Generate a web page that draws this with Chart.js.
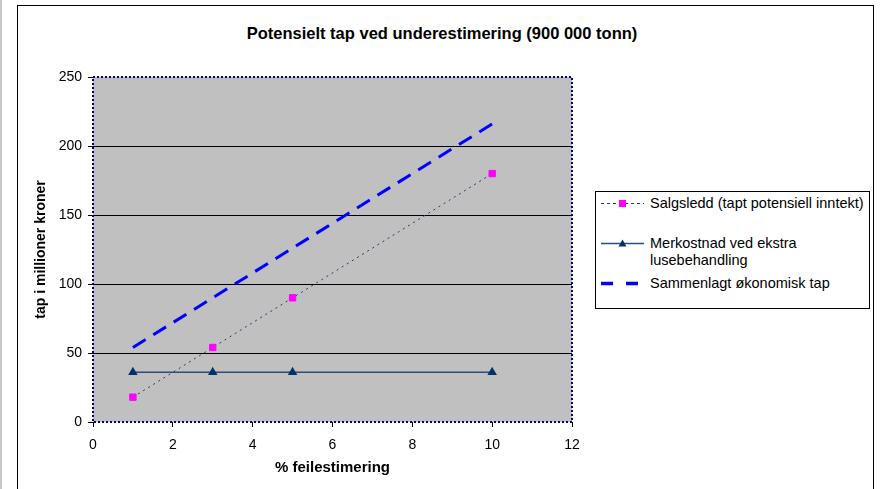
<!DOCTYPE html>
<html>
<head>
<meta charset="utf-8">
<script src="https://cdn.jsdelivr.net/npm/chart.js@4"></script>
<style>
  body { margin: 0; background: #fff; font-family: Arial, "Liberation Sans", sans-serif; }
  #wrap { position: relative; width: 881px; height: 489px; overflow: hidden; }
  #edge { position: absolute; left: 0; top: 0; width: 2px; height: 489px; background: #c8c8c8; }
  #frame { position: absolute; left: 17px; top: 5px; width: 855px; height: 520px; border: 1px solid #000; }
  #title { position: absolute; left: 0; top: 23px; width: 884px; text-align: center; font-weight: bold; font-size: 16.5px; line-height: 20px; color: #000; }
  canvas { position: absolute; left: 0; top: 0; }
  #legend { position: absolute; left: 595px; top: 191px; width: 273px; height: 116px; border: 1px solid #000; background: #fff; font-size: 14.5px; color: #000; }
  .item { position: absolute; left: 0; }
  .item svg { position: absolute; left: 3px; top: 0; }
  .item span { position: absolute; left: 54px; top: 0; white-space: nowrap; line-height: 17px; }
</style>
</head>
<body>
<div id="wrap">
  <div id="edge"></div>
  <div id="frame"></div>
  <div id="title">Potensielt tap ved underestimering (900 000 tonn)</div>
  <canvas id="chart" width="881" height="489"></canvas>
  <div id="legend"></div>
</div>
<script>
// Verdier lest av diagrammet
const feilestimering = [1, 3, 5, 10];
const salgsledd = [18, 54, 90, 180];
const merkostnad = [36, 36, 36, 36];
const sammenlagt = [54, 90, 126, 216];
const xTicks = [0, 2, 4, 6, 8, 10, 12];
const yTicks = [0, 50, 100, 150, 200, 250];

function toPoints(values) {
    return feilestimering.map(function(x, i) { return { x: x, y: values[i] }; });
}

// Grå bakgrunn og stiplet ramme rundt plottområdet
const plotArea = {
    id: 'plotArea',
    beforeDraw: function(chart) {
        const a = chart.chartArea;
        const ctx = chart.ctx;
        ctx.save();
        ctx.fillStyle = '#C0C0C0';
        ctx.fillRect(a.left, a.top, a.right - a.left, a.bottom - a.top);
        ctx.restore();
    },
    afterDraw: function(chart) {
        const a = chart.chartArea;
        const ctx = chart.ctx;
        ctx.save();
        ctx.strokeStyle = '#000080';
        ctx.lineWidth = 2;
        ctx.setLineDash([2, 2]);
        ctx.strokeRect(a.left, a.top, a.right - a.left, a.bottom - a.top);
        ctx.restore();
    }
};

const font = 'Arial, "Liberation Sans", sans-serif';

const ctx = document.getElementById('chart').getContext('2d');
const chart = new Chart(ctx, {
    type: 'line',
    data: {
        datasets: [
            {
                label: 'Sammenlagt økonomisk tap',
                data: toPoints(sammenlagt),
                borderColor: '#0000FF',
                borderWidth: 3,
                borderDash: [15, 9],
                pointRadius: 0,
                fill: false
            },
            {
                label: 'Salgsledd (tapt potensiell inntekt)',
                data: toPoints(salgsledd),
                borderColor: '#1F3F6F',
                borderWidth: 1,
                borderDash: [2, 4],
                pointStyle: 'rect',
                pointRadius: 4.5,
                pointBackgroundColor: '#FF00FF',
                pointBorderColor: '#FF00FF',
                fill: false
            },
            {
                label: 'Merkostnad ved ekstra lusebehandling',
                data: toPoints(merkostnad),
                borderColor: '#2B4C7E',
                borderWidth: 1.5,
                pointStyle: 'triangle',
                pointRadius: 4,
                pointBackgroundColor: '#003366',
                pointBorderColor: '#003366',
                fill: false
            }
        ]
    },
    options: {
        responsive: false,
        animation: false,
        layout: { padding: { left: 0, right: 309, top: 77, bottom: 0 } },
        plugins: {
            legend: { display: false },
            tooltip: { enabled: false },
            title: { display: false }
        },
        scales: {
            x: {
                type: 'linear',
                min: 0,
                max: 12,
                afterBuildTicks: function(scale) { scale.ticks = xTicks.map(function(v) { return { value: v }; }); },
                afterFit: function(scale) { scale.height = 67; },
                border: { display: false },
                grid: { drawOnChartArea: false, tickLength: 5, tickColor: '#000' },
                ticks: { color: '#000', font: { family: font, size: 14 }, padding: 10 },
                title: {
                    display: true,
                    text: '% feilestimering',
                    color: '#000',
                    font: { family: font, size: 15, weight: 'bold' },
                    padding: { top: 4, bottom: 12 }
                }
            },
            y: {
                min: 0,
                max: 250,
                afterBuildTicks: function(scale) { scale.ticks = yTicks.map(function(v) { return { value: v }; }); },
                afterFit: function(scale) { scale.width = 93; },
                border: { display: false },
                grid: {
                    color: function(c) { return (c.tick && c.tick.value > 0 && c.tick.value < 250) ? '#000' : 'rgba(0,0,0,0)'; },
                    tickColor: '#000',
                    tickLength: 5
                },
                ticks: { color: '#000', font: { family: font, size: 14 }, padding: 6 },
                title: {
                    display: true,
                    text: 'tap i millioner kroner',
                    color: '#000',
                    font: { family: font, size: 14, weight: 'bold' },
                    padding: { top: 33, bottom: 0 }
                }
            }
        }
    },
    plugins: [plotArea]
});

// Forklaring (legend) som HTML
const legendItems = [
    { text: 'Salgsledd (tapt potensiell inntekt)', top: 3, color: '#1F3F6F', width: 1, dash: '3,3', marker: 'rect', markerColor: '#FF00FF' },
    { text: 'Merkostnad ved ekstra<br>lusebehandling', top: 43, color: '#2B4C7E', width: 1.5, dash: '', marker: 'triangle', markerColor: '#003366' },
    { text: 'Sammenlagt økonomisk tap', top: 83, color: '#0000FF', width: 3.5, dash: '12,13', marker: null }
];
const legendEl = document.getElementById('legend');
legendItems.forEach(function(item) {
    const ly = 8.5;
    let marker = '';
    if (item.marker === 'rect') {
        marker = '<rect x="20" y="' + (ly - 3.5) + '" width="7" height="7" fill="' + item.markerColor + '"/>';
    } else if (item.marker === 'triangle') {
        marker = '<polygon points="23.5,' + (ly - 4) + ' 19.5,' + (ly + 3) + ' 27.5,' + (ly + 3) + '" fill="' + item.markerColor + '"/>';
    }
    const svg = '<svg width="50" height="18">' +
        '<line x1="2" y1="' + ly + '" x2="45" y2="' + ly + '" stroke="' + item.color + '" stroke-width="' + item.width + '"' +
        (item.dash ? ' stroke-dasharray="' + item.dash + '"' : '') + '/>' + marker + '</svg>';
    const div = document.createElement('div');
    div.className = 'item';
    div.style.top = item.top + 'px';
    div.innerHTML = svg + '<span>' + item.text + '</span>';
    legendEl.appendChild(div);
});
</script>
</body>
</html>
